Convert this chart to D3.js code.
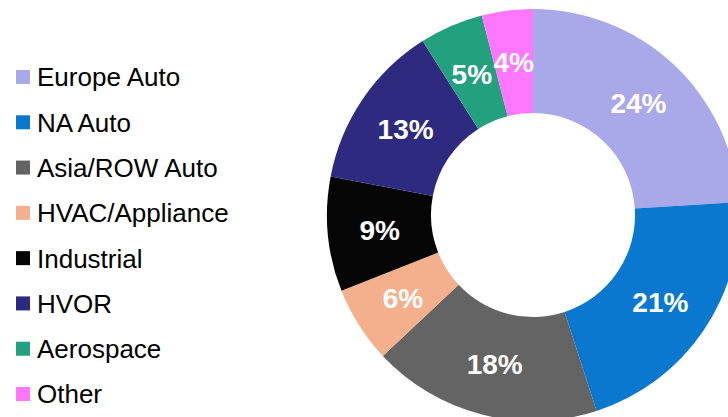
<!DOCTYPE html>
<html>
<head>
<meta charset="utf-8">
<script src="https://cdn.jsdelivr.net/npm/d3@7"></script>
<style>
  body { margin: 0; background: #fff; }
  svg { display: block; font-family: "Liberation Sans", Arial, sans-serif; }
</style>
</head>
<body>
<svg id="chart" width="728" height="417"></svg>
<script>
// data
const segments = ['Europe Auto', 'NA Auto', 'Asia/ROW Auto', 'HVAC/Appliance', 'Industrial', 'HVOR', 'Aerospace', 'Other'];
const shares = [24, 21, 18, 6, 9, 13, 5, 4];
const colors = ['#a9a8e9', '#0a78cf', '#646464', '#f4b08c', '#050505', '#2e2a80', '#23a07e', '#ff77ff'];

const svg = d3.select('#chart');

// ----------------------------------------------------------------------------
// donut
const cx = 533, cy = 215, rOuter = 206, rInner = 102;

const pie = d3.pie().sort(null).value(d => d.share);
const arc = d3.arc().innerRadius(rInner).outerRadius(rOuter);

const rows = segments.map((s, i) => ({name: s, share: shares[i], color: colors[i]}));

const donut = svg.append('g').attr('transform', `translate(${cx},${cy})`);

donut.selectAll('path')
  .data(pie(rows))
  .enter()
  .append('path')
  .attr('d', arc)
  .attr('fill', d => d.data.color)
  .attr('stroke', 'none');

donut.selectAll('text')
  .data(pie(rows))
  .enter()
  .append('text')
  .attr('transform', d => `translate(${arc.centroid(d)})`)
  .attr('text-anchor', 'middle')
  .attr('dy', '0.36em')
  .attr('fill', '#fff')
  .style('font-weight', 'bold')
  .style('font-size', '28px')
  .text(d => `${d.data.share}%`);

// ----------------------------------------------------------------------------
// legend
const legendY = d3.scalePoint().domain(segments).range([77, 394]);

const legend = svg.append('g');
const item = legend.selectAll('g')
  .data(rows)
  .enter()
  .append('g')
  .attr('transform', d => `translate(0,${legendY(d.name)})`);

item.append('rect')
  .attr('x', 16)
  .attr('y', -7)
  .attr('width', 14)
  .attr('height', 14)
  .attr('fill', d => d.color);

item.append('text')
  .attr('x', 37)
  .attr('dy', '0.36em')
  .attr('fill', '#000')
  .style('font-size', '26px')
  .text(d => d.name);
</script>
</body>
</html>
